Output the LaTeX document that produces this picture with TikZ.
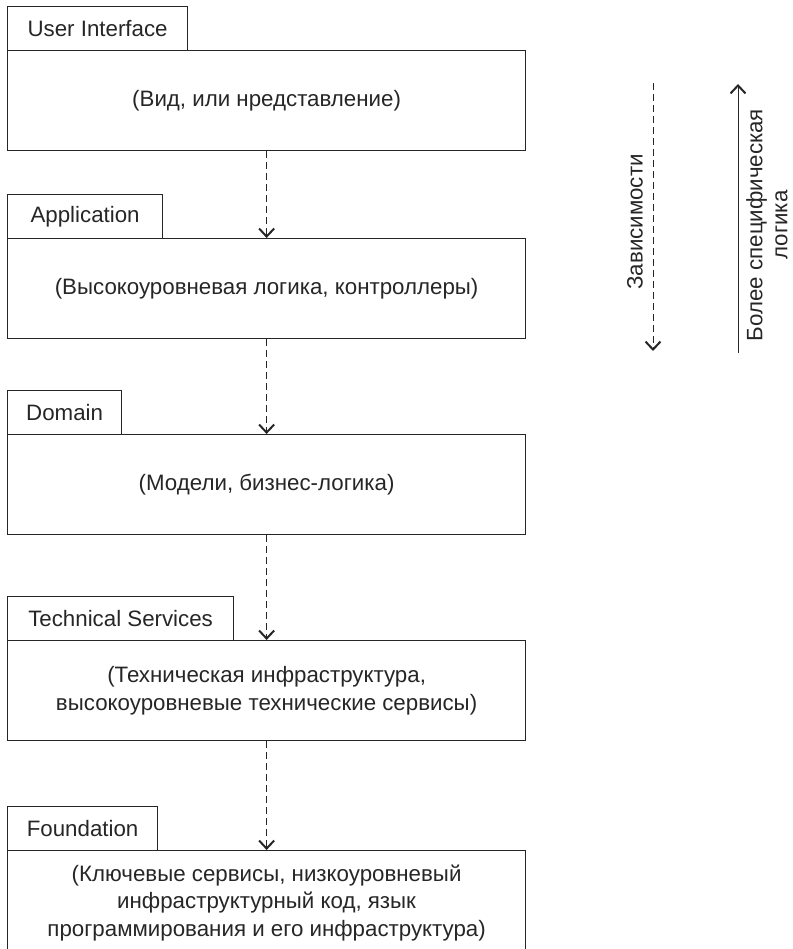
\documentclass[tikz,border=0pt]{standalone}
\usepackage{fontspec}
\setmainfont{Liberation Sans}
\usetikzlibrary{arrows.meta}

\begin{document}
\begin{tikzpicture}[x=1pt,y=1pt,color=black!85,line width=1.2pt,
  font=\fontsize{22.3}{27.5}\selectfont,
  tab/.style={draw,anchor=north west,minimum height=44pt,inner sep=0pt},
  layer/.style={draw,anchor=north west,minimum width=518pt,minimum height=100pt,
    align=center,inner sep=0pt},
  dep/.style={line width=1pt,dash pattern=on 7pt off 4pt,
    -{Straight Barb[length=8pt,width=15pt,line width=2pt]}},
  spec/.style={line width=1pt,-{Straight Barb[length=8pt,width=15pt,line width=2pt]}}]
  \useasboundingbox (0,0) rectangle (792,-949);
  \clip (0,0) rectangle (792,-949);

  % Layers
  \node[tab,minimum width=180pt] (uiTab) at (7,-6) {User Interface};
  \node[layer] (ui) at (7,-50) {(Вид, или нредставление)};

  \node[tab,minimum width=155pt] (appTab) at (7,-194) {Application};
  \node[layer] (app) at (7,-238) {(Высокоуровневая логика, контроллеры)};

  \node[tab,minimum width=114pt] (domTab) at (7,-390) {Domain};
  \node[layer] (dom) at (7,-434) {(Модели, бизнес-логика)};

  \node[tab,minimum width=226pt] (techTab) at (7,-596) {Technical Services};
  \node[layer] (tech) at (7,-640) {(Техническая инфраструктура,\\высокоуровневые технические сервисы)};

  \node[tab,minimum width=150pt] (foundTab) at (7,-806) {Foundation};
  \node[layer,minimum height=104pt] (found) at (7,-850) {(Ключевые сервисы, низкоуровневый\\инфраструктурный код, язык\\программирования и его инфраструктура)};

  % Dependencies between layers
  \foreach \a/\b in {ui/app,app/dom,dom/tech,tech/found}
    \draw[dep] (\a.south) -- (\b.north);

  % Legend
  \coordinate (depTop) at (653,-83);
  \coordinate (depEnd) at (653,-351);
  \draw[dep] (depTop) -- (depEnd);
  \node[rotate=90] (depLabel) at (635,-222) {Зависимости};

  \coordinate (specLow) at (738,-353);
  \coordinate (specHigh) at (738,-84);
  \draw[spec] (specLow) -- (specHigh);
  \node[rotate=90,align=center,font=\fontsize{22.3}{25}\selectfont] (specLabel) at (767,-225) {Более специфическая\\логика};
\end{tikzpicture}
\end{document}
